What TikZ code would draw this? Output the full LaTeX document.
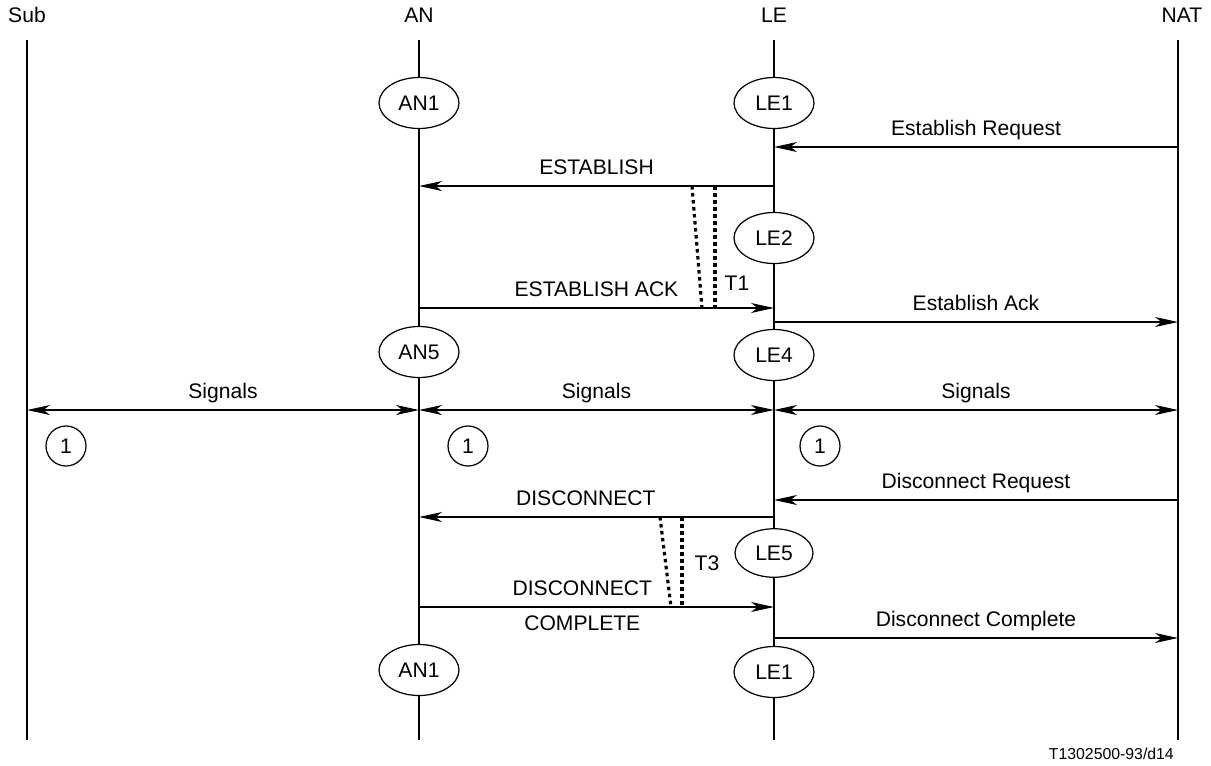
\documentclass[tikz,border=0pt]{standalone}
\usepackage{fontspec}
\setmainfont{Liberation Sans}
\usetikzlibrary{arrows.meta,positioning,calc,shapes.geometric}

\begin{document}
\begin{tikzpicture}[
    x=0.02cm, y=-0.02cm,
    font=\fontsize{12}{14}\selectfont,
    life/.style={line width=0.7pt},
    tip/.tip={Stealth[length=4.6mm, width=2mm, inset=1.3mm]},
    msg/.style={line width=0.7pt, -tip},
    twoway/.style={line width=0.7pt, tip-tip},
    lbl/.style={above=1pt, text height=1.6ex, text depth=0.4ex},
    state/.style={ellipse, draw, fill=white, line width=0.7pt, inner sep=0pt,
                  minimum width=1.6cm, minimum height=1.02cm},
    note/.style={circle, draw, line width=0.7pt, inner sep=0pt, minimum size=0.8cm},
    timer/.style={line width=1.8pt, dash pattern=on 2pt off 2pt}
]
    \useasboundingbox (0,0) rectangle (1211,765);

    % Entities and lifelines
    \node (sub) at (27,15) {Sub};
    \node (an)  at (419,15) {AN};
    \node (le)  at (774,15) {LE};
    \node (nat) at (1182,15) {NAT};
    \foreach \n/\x in {sub/27, an/419, le/774, nat/1178} {
        \coordinate (\n-t) at (\x,40);
        \coordinate (\n-b) at (\x,740);
        \draw[life] (\n-t) -- (\n-b);
    }

    % Message rows
    \foreach \n/\y in {erq/147, est/186, ack/308, eak/322, sig/410,
                       drq/500, dis/517, dcm/607, dcc/638}
        \coordinate (\n) at (0,\y);

    % Establishment
    \draw[msg] (nat-t |- erq) -- (le-t |- erq) node[midway, lbl] {Establish Request};
    \draw[msg] (le-t |- est) -- (an-t |- est) node[midway, lbl] {ESTABLISH};
    \draw[msg] (an-t |- ack) -- (le-t |- ack) node[midway, lbl] {ESTABLISH ACK};
    \draw[msg] (le-t |- eak) -- (nat-t |- eak) node[midway, lbl] {Establish Ack};

    % Signals
    \draw[twoway] (sub-t |- sig) -- (an-t |- sig) node[midway, lbl] {Signals};
    \draw[twoway] (an-t |- sig) -- (le-t |- sig) node[midway, lbl] {Signals};
    \draw[twoway] (le-t |- sig) -- (nat-t |- sig) node[midway, lbl] {Signals};
    \node[note] (n1) at (66,446) {1};
    \node[note] (n2) at (468,446) {1};
    \node[note] (n3) at (820,446) {1};

    % Release
    \draw[msg] (nat-t |- drq) -- (le-t |- drq) node[midway, lbl] {Disconnect Request};
    \draw[msg] (le-t |- dis) -- (an-t |- dis) node[pos=0.53, lbl] {DISCONNECT};
    \draw[msg] (an-t |- dcm) -- (le-t |- dcm)
        node[pos=0.46, lbl] {DISCONNECT}
        node[pos=0.46, below=1pt, text height=1.6ex, text depth=0.4ex] {COMPLETE};
    \draw[msg] (le-t |- dcc) -- (nat-t |- dcc) node[midway, lbl] {Disconnect Complete};

    % Timers
    \draw[timer] ($(le-t |- est)+(-82,0)$) -- ($(le-t |- ack)+(-72,0)$);
    \draw[timer] ($(le-t |- est)+(-59,0)$) -- ($(le-t |- ack)+(-59,0)$);
    \node (t1) at (737,283) {T1};
    \draw[timer] ($(le-t |- dis)+(-114,0)$) -- ($(le-t |- dcm)+(-103,0)$);
    \draw[timer] ($(le-t |- dis)+(-92,0)$) -- ($(le-t |- dcm)+(-92,0)$);
    \node (t3) at (707,563) {T3};

    % States
    \node[state] (an1) at (419,103) {AN1};
    \node[state] (le1) at (774,103) {LE1};
    \node[state] (le2) at (774,238) {LE2};
    \node[state] (an5) at (419,352) {AN5};
    \node[state] (le4) at (774,355) {LE4};
    \node[state, minimum width=1.56cm, minimum height=0.97cm] (le5) at (774,553) {LE5};
    \node[state] (an1b) at (419,670) {AN1};
    \node[state] (le1b) at (774,672) {LE1};

    % Figure reference
    \node[anchor=east, font=\fontsize{9}{11}\selectfont] (ref) at (1180,754) {T1302500-93/d14};
\end{tikzpicture}
\end{document}
